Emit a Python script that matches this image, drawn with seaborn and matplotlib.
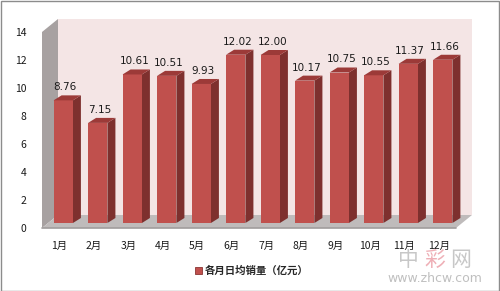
import matplotlib
matplotlib.use('Agg')
import matplotlib.pyplot as plt
import matplotlib.transforms as mtrans
from matplotlib.patches import Polygon, Rectangle
import seaborn as sns
import pandas as pd

months = ['1月', '2月', '3月', '4月', '5月', '6月', '7月', '8月', '9月', '10月', '11月', '12月']
values = [8.76, 7.15, 10.61, 10.51, 9.93, 12.02, 12.00, 10.17, 10.75, 10.55, 11.37, 11.66]
series_name = '各月日均销量（亿元）'
y_ticks = [0, 2, 4, 6, 8, 10, 12, 14]

sns.set_theme(style='white')
plt.rcParams['font.family'] = ['Noto Sans CJK SC', 'DejaVu Sans']

W, H = 500, 291
DPI = 100
fig = plt.figure(figsize=(W / DPI, H / DPI), dpi=DPI)
fig.patch.set_facecolor('white')


def px(dx, dy):
    return mtrans.ScaledTranslation(dx / DPI, dy / DPI, fig.dpi_scale_trans)


ax_left, ax_right, ax_bottom, ax_top = 42, 456, 228, 32
ax = fig.add_axes([ax_left / W, (H - ax_bottom) / H, (ax_right - ax_left) / W, (ax_bottom - ax_top) / H])
ax.set_facecolor('none')

df = pd.DataFrame({'month': months, 'value': values})
sns.barplot(data=df, x='month', y='value', color='#C0504D', width=0.56,
            saturation=1, ax=ax, zorder=5, errorbar=None, linewidth=0, edgecolor='none')
ax.set_xlim(-0.5, len(months) - 0.5)
ax.set_ylim(0, 14)
for s in ax.spines.values():
    s.set_visible(False)
ax.set_xlabel('')
ax.set_ylabel('')
ax.set_yticks(y_ticks)
ax.set_yticklabels([str(t) for t in y_ticks], fontsize=7.5, color='#1a1a1a')
ax.tick_params(axis='y', length=0, pad=11)
ax.tick_params(axis='x', length=0, pad=9, labelsize=7.5, labelcolor='#1a1a1a')

# walls
WD = (16, 13)
T = ax.transData
x0, x1 = -0.5, len(months) - 0.5


def disp(x, y, dx=0, dy=0):
    p = T.transform((x, y))
    return (p[0] + dx, p[1] + dy)


ident = mtrans.IdentityTransform()
back = Rectangle((x0, 0), x1 - x0, 14, transform=T + px(*WD), fc='#F4E5E5', ec='none', zorder=0, clip_on=False)
ax.add_patch(back)
left_wall = Polygon([disp(x0, 0), disp(x0, 14), disp(x0, 14, *WD), disp(x0, 0, *WD)],
                    closed=True, transform=ident, fc='#A7A1A1', ec='none', zorder=1, clip_on=False)
ax.add_patch(left_wall)
floor = Polygon([disp(x0, 0), disp(x1, 0), disp(x1, 0, *WD), disp(x0, 0, *WD)],
                closed=True, transform=ident, fc='#BFBBBB', ec='none', zorder=1, clip_on=False)
ax.add_patch(floor)
ax.plot([x0, x1], [0, 0], color='#A09C9C', lw=1.2, zorder=2, clip_on=False)

# 3D bars
BO = (4, 5)   # bar front offset
BD = (8, 5)   # bar depth
bars = [p for p in ax.patches if isinstance(p, Rectangle) and p.get_zorder() == 5]
for p, v in zip(bars, values):
    bx, bw, bh = p.get_x(), p.get_width(), p.get_height()
    p.set_transform(T + px(*BO))
    p.set_clip_on(False)
    side = Polygon([disp(bx + bw, 0, *BO), disp(bx + bw, bh, *BO),
                    disp(bx + bw, bh, BO[0] + BD[0], BO[1] + BD[1]),
                    disp(bx + bw, 0, BO[0] + BD[0], BO[1] + BD[1])],
                   closed=True, transform=ident, fc='#7E302E', ec='none', zorder=4, clip_on=False)
    top = Polygon([disp(bx, bh, *BO), disp(bx + bw, bh, *BO),
                   disp(bx + bw, bh, BO[0] + BD[0], BO[1] + BD[1]),
                   disp(bx, bh, BO[0] + BD[0], BO[1] + BD[1])],
                  closed=True, transform=ident, fc='#9C3A38', ec='none', zorder=6, clip_on=False)
    ax.add_patch(side)
    ax.add_patch(top)
    ax.text(bx + bw / 2, bh, f'{v:.2f}', transform=T + px(6, 13), ha='center', va='bottom',
            fontsize=7.5, color='#1a1a1a', family='DejaVu Sans', zorder=7, clip_on=False)

# watermark (kept below the month labels)
for ch, xp, col, al in [('中', 398, '#9a9a9a', 0.55), ('彩', 424, '#E88E98', 0.7), ('网', 450, '#9a9a9a', 0.55)]:
    fig.text(xp / W, 1 - 260 / H, ch, fontsize=15, color=col, alpha=al, va='center', ha='left', zorder=0)
fig.text(435 / W, 1 - 279 / H, 'www.zhcw.com', fontsize=9, color='#b0b0b0', alpha=0.8, va='center', ha='center',
         family='DejaVu Sans', zorder=0)

# legend
handle = Rectangle((0, 0), 1, 1, fc='#C0504D', ec='#8B3533', lw=0.6)
fig.legend([handle], [series_name], loc='center', bbox_to_anchor=(252 / W, 1 - 271 / H),
           frameon=False, handlelength=0.6, handleheight=0.6, handletextpad=0.3,
           borderpad=0, prop={'weight': 'bold', 'size': 7.5})

# border
fig.patches.append(Rectangle((0.5 / W, 0.5 / H), 1 - 1.5 / W, 1 - 1.5 / H, transform=fig.transFigure,
                             fill=False, ec='#8c8c8c', lw=1))

fig.savefig('out.png', dpi=DPI)
